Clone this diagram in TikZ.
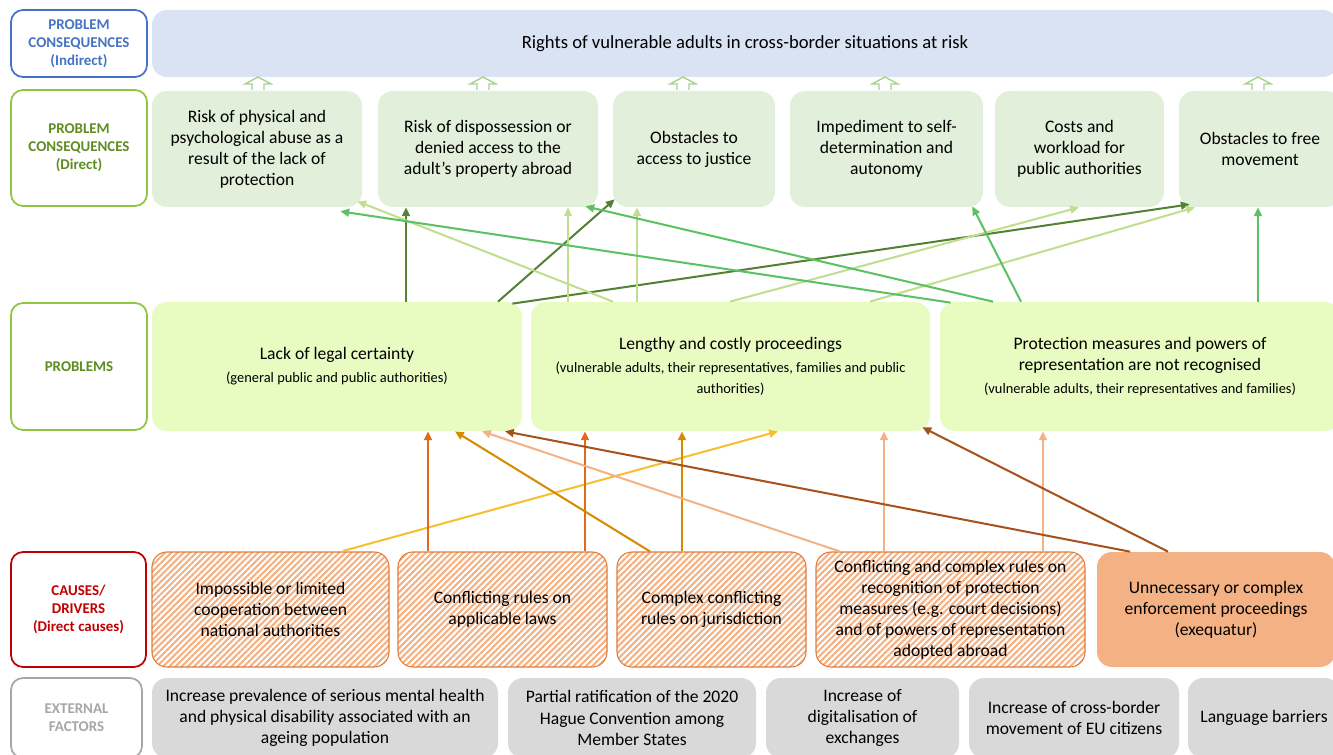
\documentclass[tikz,border=0pt]{standalone}
\usepackage{fontspec}
\setmainfont{Carlito}
\usetikzlibrary{arrows.meta,patterns.meta}

\definecolor{indblue}{HTML}{4472C4}
\definecolor{indfill}{HTML}{DAE3F3}
\definecolor{lblgreen}{HTML}{8DC63F}
\definecolor{lbltext}{HTML}{5E8C21}
\definecolor{consfill}{HTML}{E2EFDA}
\definecolor{probfill}{HTML}{E8FBC1}
\definecolor{causered}{HTML}{C00000}
\definecolor{causeline}{HTML}{E07B39}
\definecolor{salmon}{HTML}{F4B183}
\definecolor{extline}{HTML}{A6A6A6}
\definecolor{extfill}{HTML}{D9D9D9}
\definecolor{blockline}{HTML}{A9D18E}
% connector colours
\definecolor{gdark}{HTML}{548235}
\definecolor{glight}{HTML}{C3DD8F}
\definecolor{gmid}{HTML}{5CC163}
\definecolor{oyellow}{HTML}{F7BE2E}
\definecolor{oorange}{HTML}{E0691B}
\definecolor{ogold}{HTML}{D68A00}
\definecolor{obrown}{HTML}{A5521B}

\newcommand{\paren}[1]{{\fontsize{8.2}{10}\selectfont #1}}

\begin{document}
\begin{tikzpicture}[x=0.2mm,y=-0.2mm,
	wh/.style 2 args={minimum width=#1*0.2mm, minimum height=#2*0.2mm},
	lbl/.style={draw, line width=1pt, rounded corners=2.4mm, align=center, inner sep=0pt,
		font=\fontsize{8.5}{10.2}\selectfont\bfseries},
	box/.style={rounded corners=3mm, align=center, inner sep=0pt, font=\fontsize{10}{12}\selectfont},
	cons/.style={box, fill=consfill},
	prob/.style={box, fill=probfill},
	cause/.style={box, draw=causeline, line width=0.6pt,
		pattern={Lines[angle=45,distance=2.5pt,line width=1.2pt]}, pattern color=salmon},
	ext/.style={box, fill=extfill},
	link/.style={-{Triangle[length=5pt,width=4.5pt]}, line width=1.15pt},
	blockarr/.style={draw=blockline, fill=white, line width=0.8pt},
]
	\useasboundingbox (0,0) rectangle (1333,755);
	\clip (0,0) rectangle (1333,755);

	% row labels
	\node[lbl, draw=indblue, text=indblue, wh={136}{67}] (lind) at (79,43.5) {PROBLEM\\CONSEQUENCES\\(Indirect)};
	\node[lbl, draw=lblgreen, text=lbltext, wh={136}{116}] (ldir) at (79,148) {PROBLEM\\CONSEQUENCES\\(Direct)};
	\node[lbl, draw=lblgreen, text=lbltext, wh={136}{127}] (lprob) at (79,366.5) {PROBLEMS};
	\node[lbl, draw=causered, text=causered, wh={135}{115}] (lcause) at (78.5,609.5) {CAUSES/\\DRIVERS\\(Direct causes)};
	\node[lbl, draw=extline, text=extline, wh={131}{80}] (lext) at (76.5,718) {EXTERNAL\\FACTORS};

	% indirect consequence
	\node[box, fill=indfill, wh={1186}{67}, font=\fontsize{10.6}{12.7}\selectfont] (ind) at (745,43.5) {Rights of vulnerable adults in cross-border situations at risk};
	\foreach \x in {258,483,683,885,1258} {
		\draw[blockarr] (\x-6,90) -- ++(0,-6) -- ++(-7,0) -- (\x,77) -- (\x+13,84) -- ++(-7,0) -- ++(0,6);
	}

	% direct consequences
	\node[cons, wh={210}{116}] (c1) at (257,149) {Risk of physical and\\psychological abuse as a\\result of the lack of\\protection};
	\node[cons, wh={220}{116}] (c2) at (488,149) {Risk of dispossession or\\denied access to the\\adult’s property abroad};
	\node[cons, wh={162}{116}] (c3) at (694,149) {Obstacles to\\access to justice};
	\node[cons, wh={193}{116}] (c4) at (886.5,149) {Impediment to self-\\determination and\\autonomy};
	\node[cons, wh={169}{116}] (c5) at (1079.5,149) {Costs and\\workload for\\public authorities};
	\node[cons, wh={162}{116}] (c6) at (1260,149) {Obstacles to free\\movement};

	% problems
	\node[prob, wh={370}{129}] (p1) at (337,366.5) {Lack of legal certainty\\[1pt]\paren{(general public and public authorities)}};
	\node[prob, wh={399}{129}] (p2) at (730.5,366.5) {Lengthy and costly proceedings\\[1pt]\paren{(vulnerable adults, their representatives, families and public}\\\paren{authorities)}};
	\node[prob, wh={400}{129}] (p3) at (1140,366.5) {Protection measures and powers of\\representation are not recognised\\[1pt]\paren{(vulnerable adults, their representatives and families)}};

	% causes
	\node[cause, wh={237}{115}] (d1) at (270.5,609.5) {Impossible or limited\\cooperation between\\national authorities};
	\node[cause, wh={209}{115}] (d2) at (502.5,609.5) {Conflicting rules on\\applicable laws};
	\node[cause, wh={189}{115}] (d3) at (711.5,609.5) {Complex conflicting\\rules on jurisdiction};
	\node[cause, wh={269}{115}] (d4) at (950.5,609.5) {Conflicting and complex rules on\\recognition of protection\\measures (e.g. court decisions)\\and of powers of representation\\adopted abroad};
	\node[box, fill=salmon, wh={238}{115}] (d5) at (1216,609.5) {Unnecessary or complex\\enforcement proceedings\\(exequatur)};

	% external factors
	\node[ext, wh={346}{80}] (e1) at (325,718) {Increase prevalence of serious mental health\\and physical disability associated with an\\ageing population};
	\node[ext, wh={248}{80}] (e2) at (632,718) {Partial ratification of the 2020\\Hague Convention among\\Member States};
	\node[ext, wh={193}{80}] (e3) at (862.5,718) {Increase of\\digitalisation of\\exchanges};
	\node[ext, wh={210}{80}] (e4) at (1074,718) {Increase of cross-border\\movement of EU citizens};
	\node[ext, wh={152}{80}] (e5) at (1264,718) {Language barriers};

	% problems -> direct consequences
	\draw[link, gdark] (p1.north -| 406,0) -- (c2.south -| 406,0);
	\draw[link, gdark] (p1.north -| 498,0) -- ([shift={(2,-8)}]c3.south west);
	\draw[link, gdark] ([shift={(-10,2)}]p1.north east) -- ([shift={(11,-3)}]c6.south west);
	\draw[link, glight] (p2.north -| 613,0) -- ([shift={(-5,-6)}]c1.south east);
	\draw[link, glight] (p2.north -| 568,0) -- (c2.south -| 568,0);
	\draw[link, glight] (p2.north -| 637,0) -- (c3.south -| 637,0);
	\draw[link, glight] (p2.north -| 730,0) -- (c5.south -| 1079,0);
	\draw[link, glight] (p2.north -| 870,0) -- (c6.south -| 1195,0);
	\draw[link, gmid] ([shift={(11,1)}]p3.north west) -- ([shift={(-22,4)}]c1.south east);
	\draw[link, gmid] (p3.north -| 993,0) -- ([shift={(-13,-1)}]c2.south east);
	\draw[link, gmid] (p3.north -| 1021,0) -- ([shift={(-11,-1)}]c4.south east);
	\draw[link, gmid] (p3.north -| 1258,0) -- (c6.south -| 1258,0);

	% causes -> problems
	\draw[link, oyellow] (d1.north -| 343,0) -- (p2.south -| 778,0);
	\draw[link, oorange] (d2.north -| 428,0) -- (p1.south -| 428,0);
	\draw[link, oorange] (d2.north -| 585,0) -- (p2.south -| 585,0);
	\draw[link, ogold] (d3.north -| 650,0) -- (p1.south -| 455,0);
	\draw[link, ogold] (d3.north -| 682,0) -- (p2.south -| 682,0);
	\draw[link, salmon] (d4.north -| 840,0) -- (p1.south -| 482,0);
	\draw[link, salmon] (d4.north -| 884,0) -- (p2.south -| 884,0);
	\draw[link, salmon] (d4.north -| 1043,0) -- (p3.south -| 1043,0);
	\draw[link, obrown] (d5.north -| 1130,0) -- (p1.south -| 505,0);
	\draw[link, obrown] (d5.north -| 1168,0) -- ([shift={(-8,-4)}]p2.south east);
\end{tikzpicture}
\end{document}
